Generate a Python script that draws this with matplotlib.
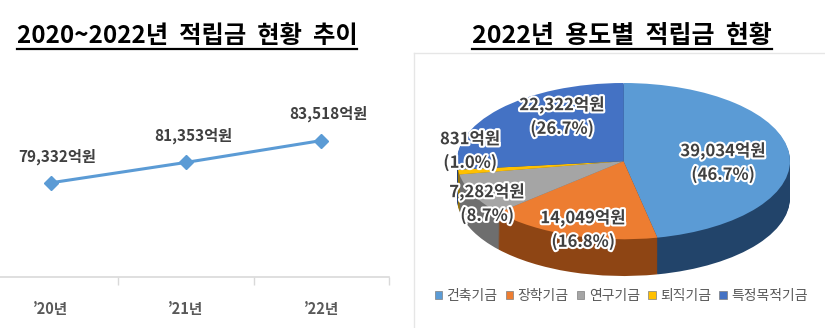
import matplotlib
matplotlib.use("Agg")
import matplotlib.pyplot as plt
import matplotlib.patheffects as pe
from matplotlib.lines import Line2D

plt.rcParams['font.family'] = ['Noto Sans CJK KR', 'DejaVu Sans']

# line chart data
years = ["’20년", "’21년", "’22년"]
totals = [79332, 81353, 83518]

# pie chart data
funds = ["건축기금", "장학기금", "연구기금", "퇴직기금", "특정목적기금"]
amounts = [39034, 14049, 7282, 831, 22322]
shares = [46.7, 16.8, 8.7, 1.0, 26.7]

top_colors = ["#5B9BD5", "#ED7D31", "#A5A5A5", "#FFC000", "#4472C4"]
side_colors = ["#22446A", "#8E4514", "#6E6E6E", "#9C7600", "#243F75"]

W, H = 825, 328
fig = plt.figure(figsize=(W / 100, H / 100), dpi=100)


def px_axes(x0, y0, x1, y1):
    # pixel box (top-left origin) -> figure axes
    return fig.add_axes([x0 / W, 1 - y1 / H, (x1 - x0) / W, (y1 - y0) / H])


def underlined_title(x, y, s, size):
    t = fig.text(x / W, 1 - y / H, s, ha="center", va="center", fontsize=size,
                 fontweight="bold", color="black")
    fig.canvas.draw()
    bb = t.get_window_extent()
    x0, x1 = bb.x0 / W, bb.x1 / W
    yl = (bb.y0 - 1) / H
    fig.add_artist(Line2D([x0, x1], [yl, yl], color="black", lw=1.6,
                          transform=fig.transFigure))


# ---- left: line chart ----
ax = px_axes(0, 60, 389, 277)
xs = list(range(len(years)))
ax.plot(xs, totals, color="#5B9BD5", lw=2.2, marker="D", markersize=7.5,
        markeredgecolor="#5B9BD5", zorder=3)
for x, v in zip(xs, totals):
    ax.annotate(f"{v:,}억원", (x, v), xytext=(5, 19), textcoords="offset points",
                ha="center", va="center", fontsize=11, fontweight="bold",
                color="#404040")
ax.set_xlim(-0.375, 2.5)
ax.set_ylim(70000, 91500)
for s in ["top", "right", "left"]:
    ax.spines[s].set_visible(False)
ax.spines["bottom"].set_color("#D9D9D9")
ax.spines["bottom"].set_linewidth(1.2)
ax.set_yticks([])
ax.set_xticks(xs)
ax.set_xticklabels(years, fontsize=10.5, fontweight="bold", color="#595959")
ax.tick_params(axis="x", which="major", length=0, pad=17)
ax.set_xticks([0.5, 1.5, 2.5], minor=True)
ax.tick_params(axis="x", which="minor", length=6, color="#D9D9D9", width=1)

# ---- right: pie chart ----
fig.add_artist(Line2D([414 / W, 414 / W], [1 - 53 / H, 0], color="#E6E6E6",
                      lw=1, transform=fig.transFigure))
fig.add_artist(Line2D([414 / W, 1], [1 - 53 / H, 1 - 53 / H], color="#E6E6E6",
                      lw=1, transform=fig.transFigure))

pax = px_axes(457, 83, 790, 276)
depth = 0.47
steps = 36
for i in range(steps, 0, -1):
    off = depth * i / steps
    pax.pie(amounts, colors=side_colors, startangle=90, counterclock=False,
            center=(0, -off), wedgeprops=dict(linewidth=0))
wedges, _ = pax.pie(amounts, colors=top_colors, startangle=90, counterclock=False,
                    wedgeprops=dict(linewidth=0))
pax.set_aspect("auto")
pax.set_xlim(-1, 1)
pax.set_ylim(-1 - depth, 1)
pax.axis("off")

label_pos = [(723, 163), (583, 230), (487, 204), (470, 151), (562, 117)]
glow = [pe.withStroke(linewidth=3, foreground="white")]
for (lx, ly), v, p in zip(label_pos, amounts, shares):
    fig.text(lx / W, 1 - ly / H, f"{v:,}억원\n({p:.1f}%)", ha="center",
             va="center", fontsize=12, fontweight="bold", color="#404040",
             linespacing=1.4, path_effects=glow)

handles = [plt.Rectangle((0, 0), 1, 1, facecolor=c, edgecolor="#7F7F7F", lw=0.5)
           for c in top_colors]
fig.legend(handles, funds, loc="center", bbox_to_anchor=(621 / W, 1 - 296 / H),
           ncol=5, frameon=False, fontsize=10, handlelength=0.55,
           handleheight=0.55, handletextpad=0.3, columnspacing=0.6,
           labelcolor="#595959")

underlined_title(187, 36, "2020~2022년  적립금  현황  추이", 17.5)
underlined_title(622, 36, "2022년  용도별  적립금  현황", 18)

fig.savefig("out.png", dpi=100)
